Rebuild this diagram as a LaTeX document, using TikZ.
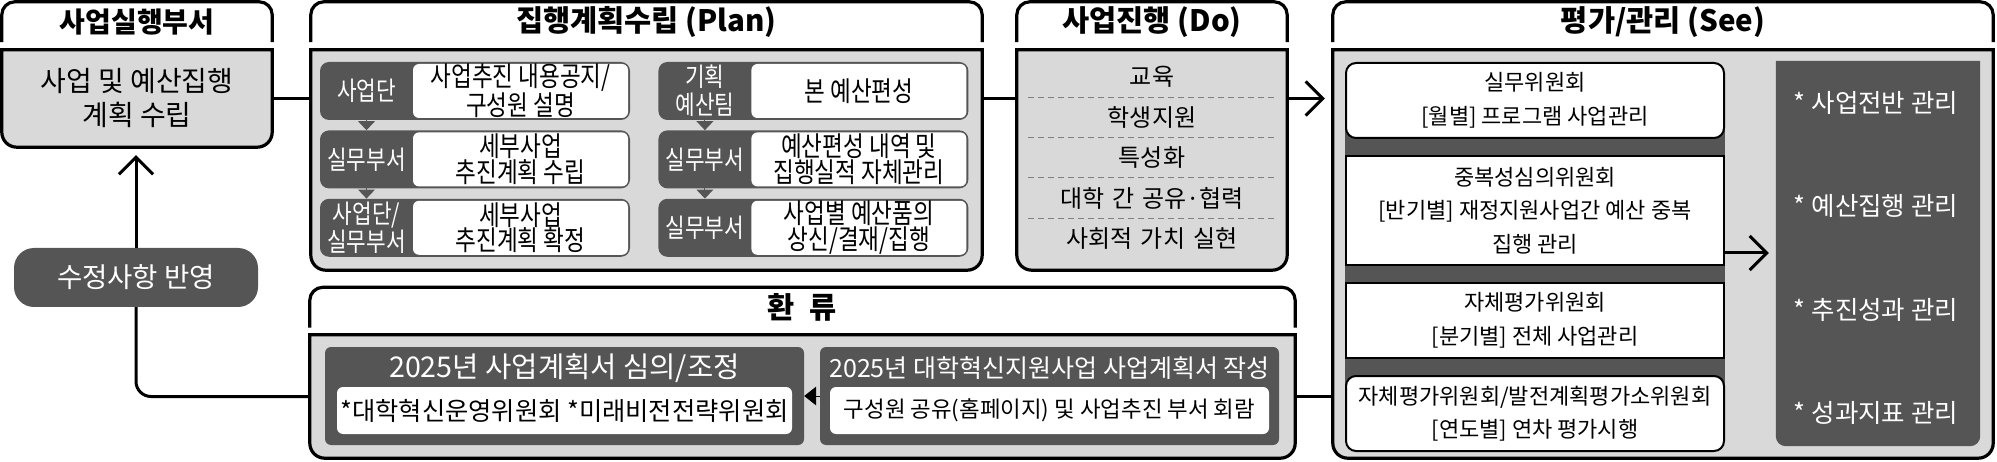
\documentclass[tikz,border=0pt]{standalone}
\usepackage{fontspec}
\setmainfont{Noto Sans CJK KR}
\newfontfamily\narrow{Noto Sans CJK KR}[FakeStretch=0.82]
\usepackage{xcolor}
\usepackage{tikz}
\usetikzlibrary{positioning,arrows.meta,backgrounds}
\definecolor{lgray}{HTML}{D9D9D9}
\definecolor{dgray}{HTML}{555555}

\begin{document}
\begin{tikzpicture}[x=1pt,y=-1pt,
    tab/.style={inner sep=0pt,minimum height=40pt,font=\fontsize{29.5}{31}\selectfont\bfseries},
    body/.style={inner sep=0pt,align=center},
    bodyfill/.style={draw,line width=3.2pt,fill=lgray},
    tabline/.style={draw,line width=3.2pt,rounded corners=13pt},
    wire/.style={draw,line width=3pt},
    arr/.style={line width=3pt,-{Straight Barb[length=17pt,width=34pt]}},
    row/.style={fill=dgray,rounded corners=9pt,minimum width=310pt,minimum height=58pt,inner sep=0pt},
    lab/.style={text=white,minimum width=93pt,minimum height=58pt,inner sep=0pt,align=center,font=\narrow\fontsize{26}{28}\selectfont},
    txt/.style={fill=white,rounded corners=6pt,minimum width=215pt,minimum height=54pt,inner sep=0pt,align=center,font=\narrow\fontsize{27.5}{25.5}\selectfont},
    tri/.style={line width=0pt,color=dgray,-{Triangle[length=9pt,width=17pt]}},
    tril/.style={line width=0pt,-{Triangle[length=12pt,width=19pt]}},
    item/.style={minimum height=40pt,text width=247pt,inner sep=0pt,align=center,font=\fontsize{24}{26}\selectfont},
    dashline/.style={draw=gray,line width=1pt,dash pattern=on 6pt off 4pt},
    cbox/.style={draw,line width=2pt,fill=white,minimum width=378pt,minimum height=75pt,inner sep=0pt,align=center,font=\fontsize{22}{33.5}\selectfont},
    mtxt/.style={text=white,font=\fontsize{25.5}{27}\selectfont},
    dbox/.style={fill=dgray,rounded corners=6pt,minimum height=98pt,inner sep=0pt},
    wbox/.style={fill=white,rounded corners=6pt,minimum height=47pt,inner sep=0pt,font=\fontsize{25.3}{27}\selectfont},
    wtitle/.style={text=white,font=\fontsize{28.6}{30}\selectfont}]
    \useasboundingbox (0,0) rectangle (1997,462);

    \node[tab,minimum width=270pt,font=\fontsize{28}{30}\selectfont\bfseries] (dept-h) at (137,22) {사업실행부서};
    \node[body,minimum width=270pt,minimum height=97pt,font=\fontsize{28}{34}\selectfont] (dept) at (137,98.5) {사업 및 예산집행\\계획 수립};
    \node[fill=dgray,rounded corners=20pt,minimum width=244pt,minimum height=59pt,text=white,font=\fontsize{27.5}{29}\selectfont] (rev) at (136,277.5) {수정사항 반영};

    \node[tab,minimum width=671pt] (plan-h) at (646.5,22) {집행계획수립 (Plan)};
    \node[body,minimum width=671pt,minimum height=220pt] (plan) at (646.5,160) {};
    \node[row] (p1) at (475,91) {};
    \node[row,below=10pt of p1] (p2) {};
    \node[row,below=10pt of p2] (p3) {};
    \node[row,right=28pt of p1] (q1) {};
    \node[row,below=10pt of q1] (q2) {};
    \node[row,below=10pt of q2] (q3) {};
    \node[lab,anchor=west] (p1l) at (p1.west) {사업단};
    \node[txt,anchor=east] (p1t) at ([xshift=-2pt]p1.east) {사업추진 내용공지/\\구성원 설명};
    \node[lab,anchor=west] (p2l) at (p2.west) {실무부서};
    \node[txt,anchor=east] (p2t) at ([xshift=-2pt]p2.east) {세부사업\\추진계획 수립};
    \node[lab,anchor=west] (p3l) at (p3.west) {사업단/\\실무부서};
    \node[txt,anchor=east] (p3t) at ([xshift=-2pt]p3.east) {세부사업\\추진계획 확정};
    \node[lab,anchor=west] (q1l) at (q1.west) {기획\\예산팀};
    \node[txt,anchor=east] (q1t) at ([xshift=-2pt]q1.east) {본 예산편성};
    \node[lab,anchor=west] (q2l) at (q2.west) {실무부서};
    \node[txt,anchor=east] (q2t) at ([xshift=-2pt]q2.east) {예산편성 내역 및\\집행실적 자체관리};
    \node[lab,anchor=west] (q3l) at (q3.west) {실무부서};
    \node[txt,anchor=east] (q3t) at ([xshift=-2pt]q3.east) {사업별 예산품의\\상신/결재/집행};

    \node[tab,minimum width=270pt] (run-h) at (1152,22) {사업진행 (Do)};
    \node[body,minimum width=270pt,minimum height=220pt] (run) at (1152,160) {};
    \node[item,below=7pt of run.north] (r1) {교육};
    \node[item,below=0pt of r1] (r2) {학생지원};
    \node[item,below=0pt of r2] (r3) {특성화};
    \node[item,below=0pt of r3] (r4) {대학 간 공유·협력};
    \node[item,below=0pt of r4] (r5) {사회적 가치 실현};

    \node[tab,minimum width=660pt] (see-h) at (1663,22) {평가/관리 (See)};
    \node[body,minimum width=660pt,minimum height=408pt] (see) at (1663,254) {};
    \node[cbox,rounded corners=10pt] (s1) at (1535,100.5) {실무위원회\\{}[월별] 프로그램 사업관리};
    \node[cbox,minimum height=109pt,below=16pt of s1] (s2) {중복성심의위원회\\{}[반기별] 재정지원사업간 예산 중복\\집행 관리};
    \node[cbox,below=16pt of s2] (s3) {자체평가위원회\\{}[분기별] 전체 사업관리};
    \node[cbox,rounded corners=10pt,below=16pt of s3] (s4) {자체평가위원회/발전계획평가소위원회\\{}[연도별] 연차 평가시행};
    \node[inner sep=0pt,minimum width=204pt,minimum height=385pt] (mg) at (1878,253.5) {};
    \foreach \t [count=\i] in {사업전반,예산집행,추진성과,성과지표}
        \node[mtxt] (m\i) at (1876,{103.2*\i}) {* \t{} 관리};

    \node[tab,minimum width=985pt] (fb-h) at (802.5,307.5) {환\hspace{.5em}류};
    \node[body,minimum width=985pt,minimum height=123pt] (fb) at (802.5,396.5) {};
    \node[dbox,minimum width=479pt] (fbl) at (564.5,396) {};
    \node[wtitle] (fblt) at ([yshift=-21pt]fbl.north) {2025년 사업계획서 심의/조정};
    \node[wbox,minimum width=455pt,above=11pt of fbl.south] (fblw) {*대학혁신운영위원회 *미래비전전략위원회};
    \node[dbox,minimum width=459pt] (fbr) at (1049.5,396) {};
    \node[wtitle,font=\fontsize{25}{27}\selectfont] (fbrt) at ([yshift=-21pt]fbr.north) {2025년 대학혁신지원사업 사업계획서 작성};
    \node[wbox,minimum width=439pt,above=11pt of fbr.south,font=\fontsize{22.4}{24}\selectfont] (fbrw) {구성원 공유(홈페이지) 및 사업추진 부서 회람};

    \begin{scope}[on background layer]
    \foreach \b in {dept,plan,run,see,fb} {
        \draw[tabline] (\b-h.south west) -- (\b-h.north west) -- (\b-h.north east) -- (\b-h.south east);
        \draw[bodyfill] (\b.north east) -- (\b.north west) -- (\b.west) [rounded corners=15pt] -- (\b.south west) -- (\b.south east) -- (\b.east) [sharp corners] -- cycle;
    }
    \fill[dgray] (s1.west) rectangle (s4.east);
    \fill[dgray] (mg.north east) -- (mg.north west) -- (mg.west) [rounded corners=10pt] -- (mg.south west) -- (mg.south east) -- (mg.east) [sharp corners] -- cycle;
    \end{scope}

    \foreach \a/\b in {p1l/p2l,p2l/p3l,q1l/q2l,q2l/q3l}
        \draw[tri] (\a.south) -- (\b.north);
    \foreach \i in {1,...,4}
        \draw[dashline] (r\i.south west) -- (r\i.south east);
    \draw[tril] (fbr.west) -- (fbl.east);

    \coordinate (sa) at ([yshift=13pt]s2.south east);
    \draw[wire] (dept.east) -- (dept.east -| plan.west);
    \draw[wire] (dept.east -| plan.east) -- (dept.east -| run.west);
    \draw[arr,shorten >=8pt] (dept.east -| run.east) -- (dept.east -| see.west);
    \draw[arr,shorten >=7pt] (sa) -- (sa -| mg.west);
    \draw[wire] (fb.east) -- (fb.east -| see.west);
    \draw[wire,rounded corners=15pt] (fb.west) -| (rev.south);
    \draw[arr,shorten >=8pt] (rev.north) -- (rev.north |- dept.south);
\end{tikzpicture}
\end{document}
